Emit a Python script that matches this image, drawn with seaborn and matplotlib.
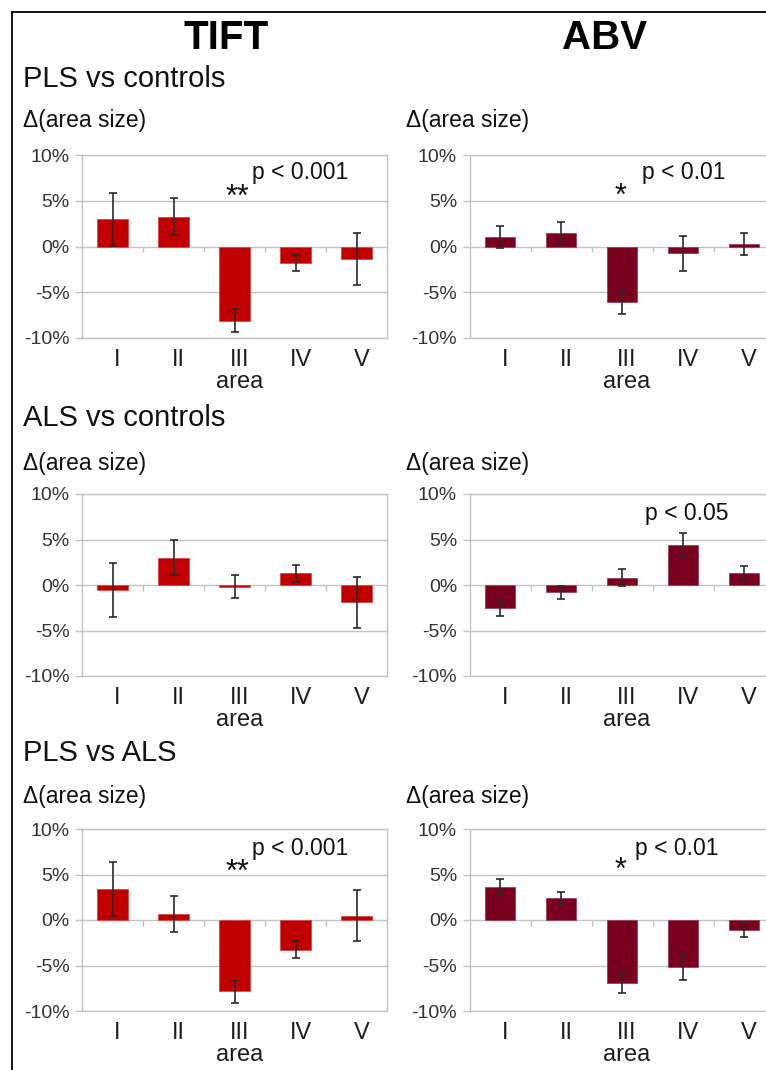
import numpy as np
import pandas as pd
import matplotlib
matplotlib.use("Agg")
import matplotlib.pyplot as plt
from matplotlib.lines import Line2D
from matplotlib.ticker import FuncFormatter
from matplotlib.transforms import ScaledTranslation
import seaborn as sns

# ---- data: mean change in area size (%) and error (%) per area ----
areas = ["I", "II", "III", "IV", "V"]

tift_pls_ctrl = [3.0, 3.25, -8.1, -1.8, -1.4]
tift_pls_ctrl_err = [2.9, 2.0, 1.25, 0.9, 2.85]
abv_pls_ctrl = [1.0, 1.5, -6.05, -0.75, 0.25]
abv_pls_ctrl_err = [1.2, 1.2, 1.35, 1.95, 1.2]

tift_als_ctrl = [-0.55, 3.0, -0.2, 1.3, -1.9]
tift_als_ctrl_err = [2.95, 1.95, 1.25, 0.95, 2.8]
abv_als_ctrl = [-2.55, -0.8, 0.8, 4.45, 1.35]
abv_als_ctrl_err = [0.85, 0.7, 0.95, 1.25, 0.77]

tift_pls_als = [3.4, 0.65, -7.85, -3.25, 0.45]
tift_pls_als_err = [2.95, 2.0, 1.25, 0.95, 2.8]
abv_pls_als = [3.6, 2.4, -6.9, -5.2, -1.05]
abv_pls_als_err = [0.9, 0.72, 1.15, 1.4, 0.8]

methods = ["TIFT", "ABV"]
comparisons = ["PLS vs controls", "ALS vs controls", "PLS vs ALS"]
ylabel_text = "\u0394(area size)"
xlabel_text = "area"
yticks = [-10, -5, 0, 5, 10]

panels = [
    [(tift_pls_ctrl, tift_pls_ctrl_err, "**", "p < 0.001"),
     (abv_pls_ctrl, abv_pls_ctrl_err, "*", "p < 0.01")],
    [(tift_als_ctrl, tift_als_ctrl_err, None, None),
     (abv_als_ctrl, abv_als_ctrl_err, None, "p < 0.05")],
    [(tift_pls_als, tift_pls_als_err, "**", "p < 0.001"),
     (abv_pls_als, abv_pls_als_err, "*", "p < 0.01")],
]

# ---- style ----
sns.set_theme(style="white")
plt.rcParams["font.family"] = ["Liberation Sans", "DejaVu Sans"]

bar_colors = {"TIFT": "#C00000", "ABV": "#7A0020"}
edge_colors = {"TIFT": "#D84848", "ABV": "#9A4058"}
grid_color = "#C3C3C3"
text_dark = "#1E1E1E"

W, H = 766, 1070
fig = plt.figure(figsize=(W / 100, H / 100), dpi=100)
fig.patch.set_facecolor("white")


def fx(px):
    return px / W


def fy(py):
    return 1 - py / H


# axes placement (pixel rows / columns)
row_spans = [(155, 338), (494, 676), (829, 1011)]
col_lefts = [82, 469.5]
ax_width = 305

# star (baseline) / p-value placement in data coordinates for each panel
star_pos = {(0, 0): (2.04, 4.4), (0, 1): (1.97, 4.6),
            (2, 0): (2.04, 4.3), (2, 1): (1.97, 4.5)}
p_pos = {(0, 0): (2.29, 8.1), (0, 1): (2.32, 8.1), (1, 1): (2.37, 7.9),
         (2, 0): (2.29, 7.9), (2, 1): (2.22, 7.9)}

# category labels sit slightly right of the bar centres
label_shift = ScaledTranslation(5 / 100, 0, fig.dpi_scale_trans)

for r, (top, bottom) in enumerate(row_spans):
    for c, method in enumerate(methods):
        vals, errs, stars, ptxt = panels[r][c]
        ax = fig.add_axes([fx(col_lefts[c]), fy(bottom),
                           ax_width / W, (bottom - top) / H])
        df = pd.DataFrame({"area": areas, "delta": vals})
        sns.barplot(data=df, x="area", y="delta", order=areas,
                    color=bar_colors[method], saturation=1, width=0.5,
                    errorbar=None, edgecolor=edge_colors[method],
                    linewidth=0.6, ax=ax, zorder=2)
        ax.errorbar(np.arange(len(areas)), vals, yerr=errs, fmt="none",
                    ecolor="#2A2A2A", elinewidth=1.2, capsize=3.2,
                    capthick=1.2, zorder=3)

        ax.set_xlim(-0.5, len(areas) - 0.5)
        ax.set_ylim(-10, 10)
        ax.set_yticks(yticks)
        ax.yaxis.set_major_formatter(FuncFormatter(lambda v, _: f"{v:.0f}%"))
        ax.grid(axis="y", color=grid_color, linewidth=1.0, zorder=0)
        ax.set_axisbelow(True)
        for s in ax.spines.values():
            s.set_color(grid_color)
            s.set_linewidth(1.0)
        ax.tick_params(axis="y", length=5, width=1.0, color=grid_color,
                       pad=4, labelsize=14, labelcolor="#333333", left=True)
        ax.tick_params(axis="x", length=0, pad=8, labelsize=17,
                       labelcolor=text_dark)
        for lbl in ax.get_xticklabels():
            lbl.set_transform(lbl.get_transform() + label_shift)
        ax.set_ylabel("")
        ax.set_xlabel(xlabel_text, fontsize=17, color=text_dark, labelpad=0)
        ax.xaxis.label.set_transform(ax.xaxis.label.get_transform()
                                     + label_shift)

        # short category-boundary ticks hanging from the zero line
        ax.vlines(np.arange(len(areas)) + 0.5, -0.65, 0, color=grid_color,
                  linewidth=1.0, zorder=1)

        if stars:
            ax.text(*star_pos[(r, c)], stars, ha="center", va="baseline",
                    fontsize=22, color="#111111")
        if ptxt:
            ax.text(*p_pos[(r, c)], ptxt, ha="left", va="center",
                    fontsize=16.5, color="#111111")

# column headers
fig.text(fx(226), fy(38), methods[0], ha="center", va="center",
         fontsize=29, fontweight="bold", color="black")
fig.text(fx(605), fy(38), methods[1], ha="center", va="center",
         fontsize=29, fontweight="bold", color="black")

# comparison titles and y-axis captions
title_y = [79, 418, 753]
caption_y = [120, 463, 797]
for r in range(3):
    fig.text(fx(23), fy(title_y[r]), comparisons[r], ha="left", va="center",
             fontsize=21, color="#111111")
    fig.text(fx(23), fy(caption_y[r]), ylabel_text, ha="left", va="center",
             fontsize=16.5, color="#111111")
    fig.text(fx(406), fy(caption_y[r]), ylabel_text, ha="left", va="center",
             fontsize=16.5, color="#111111")

# frame lines along the top and left edge
fig.add_artist(Line2D([fx(12), fx(12)], [fy(1070), fy(12)], color="black",
                      linewidth=1.3, transform=fig.transFigure))
fig.add_artist(Line2D([fx(12), fx(766)], [fy(12), fy(12)], color="black",
                      linewidth=1.3, transform=fig.transFigure))

fig.savefig("out.png", dpi=100, facecolor="white")
